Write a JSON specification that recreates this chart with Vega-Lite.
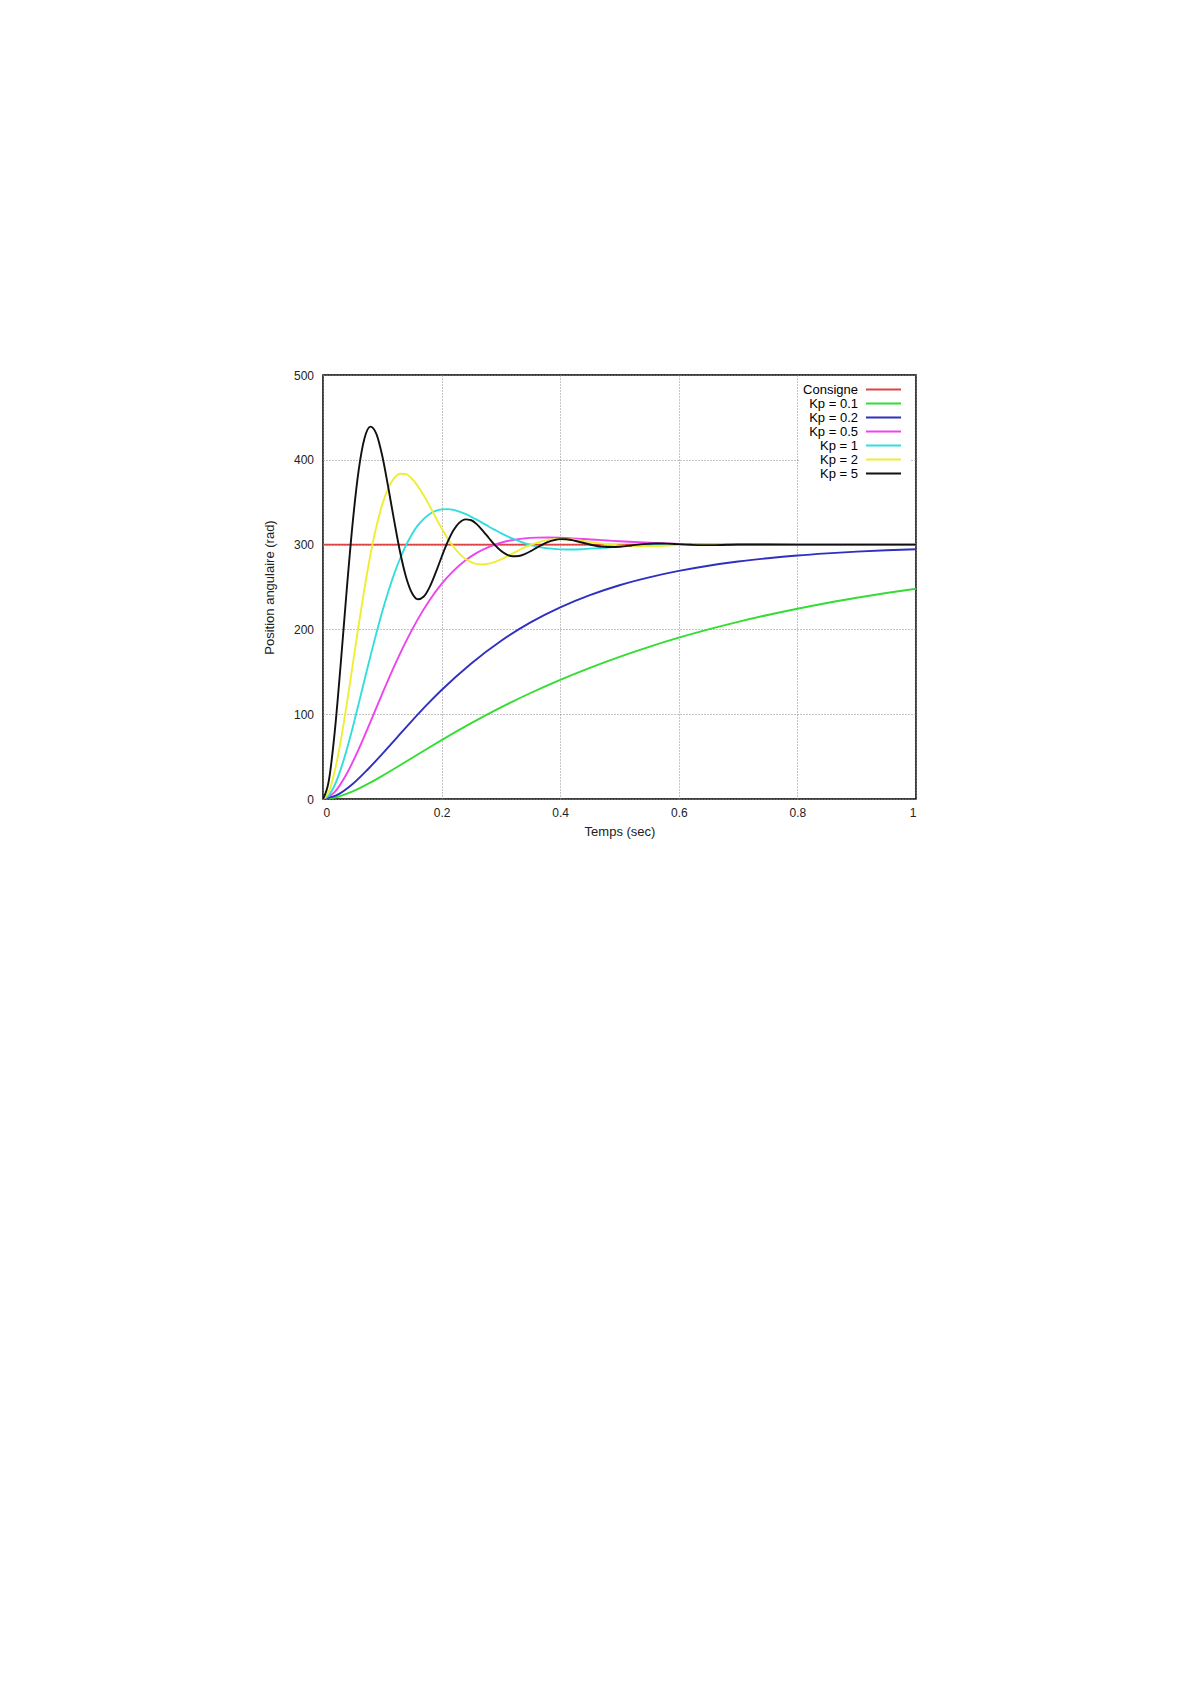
{
 "$schema": "https://vega.github.io/schema/vega-lite/v6.json",
 "autosize": {"type": "none"},
 "padding": {"left": 323, "top": 375, "right": 274, "bottom": 885},
 "width": 593,
 "height": 424,
 "background": "white",
 "config": {"view": {"stroke": "black", "strokeWidth": 1.5}, "font": "Liberation Sans"},
 "data": {"values": [
  {"courbe":"Consigne","t":0,"pos":300},{"courbe":"Consigne","t":1,"pos":300},
  {"courbe":"Kp = 0.1","t":0,"pos":0},{"courbe":"Kp = 0.1","t":0.025,"pos":2.6},{"courbe":"Kp = 0.1","t":0.05,"pos":8.9},{"courbe":"Kp = 0.1","t":0.075,"pos":17.5},{"courbe":"Kp = 0.1","t":0.1,"pos":27.3},{"courbe":"Kp = 0.1","t":0.125,"pos":37.7},{"courbe":"Kp = 0.1","t":0.15,"pos":48.4},{"courbe":"Kp = 0.1","t":0.175,"pos":59.0},{"courbe":"Kp = 0.1","t":0.2,"pos":69.4},{"courbe":"Kp = 0.1","t":0.25,"pos":89.4},{"courbe":"Kp = 0.1","t":0.3,"pos":108.0},{"courbe":"Kp = 0.1","t":0.35,"pos":125.0},{"courbe":"Kp = 0.1","t":0.4,"pos":140.5},{"courbe":"Kp = 0.1","t":0.45,"pos":154.7},{"courbe":"Kp = 0.1","t":0.5,"pos":167.7},{"courbe":"Kp = 0.1","t":0.55,"pos":179.5},{"courbe":"Kp = 0.1","t":0.6,"pos":190.2},{"courbe":"Kp = 0.1","t":0.65,"pos":200.0},{"courbe":"Kp = 0.1","t":0.7,"pos":208.9},{"courbe":"Kp = 0.1","t":0.75,"pos":217.0},{"courbe":"Kp = 0.1","t":0.8,"pos":224.4},{"courbe":"Kp = 0.1","t":0.85,"pos":231.2},{"courbe":"Kp = 0.1","t":0.9,"pos":237.3},{"courbe":"Kp = 0.1","t":0.95,"pos":242.9},{"courbe":"Kp = 0.1","t":1,"pos":248.0},
  {"courbe":"Kp = 0.2","t":0,"pos":0},{"courbe":"Kp = 0.2","t":0.025,"pos":5.1},{"courbe":"Kp = 0.2","t":0.05,"pos":17.6},{"courbe":"Kp = 0.2","t":0.075,"pos":34.5},{"courbe":"Kp = 0.2","t":0.1,"pos":53.3},{"courbe":"Kp = 0.2","t":0.125,"pos":72.8},{"courbe":"Kp = 0.2","t":0.15,"pos":92.2},{"courbe":"Kp = 0.2","t":0.175,"pos":110.9},{"courbe":"Kp = 0.2","t":0.2,"pos":128.5},{"courbe":"Kp = 0.2","t":0.25,"pos":159.9},{"courbe":"Kp = 0.2","t":0.3,"pos":186.4},{"courbe":"Kp = 0.2","t":0.35,"pos":208.2},{"courbe":"Kp = 0.2","t":0.4,"pos":226.0},{"courbe":"Kp = 0.2","t":0.45,"pos":240.4},{"courbe":"Kp = 0.2","t":0.5,"pos":252.1},{"courbe":"Kp = 0.2","t":0.55,"pos":261.4},{"courbe":"Kp = 0.2","t":0.6,"pos":269.0},{"courbe":"Kp = 0.2","t":0.65,"pos":275.1},{"courbe":"Kp = 0.2","t":0.7,"pos":280.0},{"courbe":"Kp = 0.2","t":0.75,"pos":283.9},{"courbe":"Kp = 0.2","t":0.8,"pos":287.1},{"courbe":"Kp = 0.2","t":0.85,"pos":289.6},{"courbe":"Kp = 0.2","t":0.9,"pos":291.7},{"courbe":"Kp = 0.2","t":0.95,"pos":293.3},{"courbe":"Kp = 0.2","t":1,"pos":294.6},
  {"courbe":"Kp = 0.5","t":0,"pos":0},{"courbe":"Kp = 0.5","t":0.02,"pos":8.4},{"courbe":"Kp = 0.5","t":0.04,"pos":29.7},{"courbe":"Kp = 0.5","t":0.06,"pos":58.5},{"courbe":"Kp = 0.5","t":0.08,"pos":91.0},{"courbe":"Kp = 0.5","t":0.1,"pos":124.3},{"courbe":"Kp = 0.5","t":0.12,"pos":156.4},{"courbe":"Kp = 0.5","t":0.14,"pos":185.9},{"courbe":"Kp = 0.5","t":0.16,"pos":212.1},{"courbe":"Kp = 0.5","t":0.18,"pos":234.7},{"courbe":"Kp = 0.5","t":0.2,"pos":253.6},{"courbe":"Kp = 0.5","t":0.22,"pos":269.0},{"courbe":"Kp = 0.5","t":0.24,"pos":281.2},{"courbe":"Kp = 0.5","t":0.26,"pos":290.5},{"courbe":"Kp = 0.5","t":0.28,"pos":297.4},{"courbe":"Kp = 0.5","t":0.3,"pos":302.2},{"courbe":"Kp = 0.5","t":0.32,"pos":305.4},{"courbe":"Kp = 0.5","t":0.34,"pos":307.3},{"courbe":"Kp = 0.5","t":0.36,"pos":308.2},{"courbe":"Kp = 0.5","t":0.38,"pos":308.4},{"courbe":"Kp = 0.5","t":0.4,"pos":308.1},{"courbe":"Kp = 0.5","t":0.42,"pos":307.4},{"courbe":"Kp = 0.5","t":0.44,"pos":306.6},{"courbe":"Kp = 0.5","t":0.46,"pos":305.7},{"courbe":"Kp = 0.5","t":0.48,"pos":304.8},{"courbe":"Kp = 0.5","t":0.5,"pos":303.9},{"courbe":"Kp = 0.5","t":0.55,"pos":302.1},{"courbe":"Kp = 0.5","t":0.6,"pos":300.8},{"courbe":"Kp = 0.5","t":0.65,"pos":300.1},{"courbe":"Kp = 0.5","t":0.7,"pos":299.8},{"courbe":"Kp = 0.5","t":0.8,"pos":300},{"courbe":"Kp = 0.5","t":1,"pos":300},
  {"courbe":"Kp = 1","t":0,"pos":0},{"courbe":"Kp = 1","t":0.01,"pos":4.5},{"courbe":"Kp = 1","t":0.02,"pos":16.8},{"courbe":"Kp = 1","t":0.03,"pos":35.2},{"courbe":"Kp = 1","t":0.04,"pos":58.1},{"courbe":"Kp = 1","t":0.05,"pos":84.1},{"courbe":"Kp = 1","t":0.06,"pos":111.9},{"courbe":"Kp = 1","t":0.07,"pos":140.3},{"courbe":"Kp = 1","t":0.08,"pos":168.5},{"courbe":"Kp = 1","t":0.09,"pos":195.6},{"courbe":"Kp = 1","t":0.1,"pos":221.1},{"courbe":"Kp = 1","t":0.11,"pos":244.4},{"courbe":"Kp = 1","t":0.12,"pos":265.3},{"courbe":"Kp = 1","t":0.13,"pos":283.6},{"courbe":"Kp = 1","t":0.14,"pos":299.2},{"courbe":"Kp = 1","t":0.15,"pos":312.3},{"courbe":"Kp = 1","t":0.16,"pos":322.6},{"courbe":"Kp = 1","t":0.17,"pos":330.4},{"courbe":"Kp = 1","t":0.18,"pos":336.1},{"courbe":"Kp = 1","t":0.19,"pos":339.7},{"courbe":"Kp = 1","t":0.2,"pos":341.5},{"courbe":"Kp = 1","t":0.21,"pos":341.8},{"courbe":"Kp = 1","t":0.22,"pos":340.9},{"courbe":"Kp = 1","t":0.23,"pos":338.9},{"courbe":"Kp = 1","t":0.24,"pos":336.1},{"courbe":"Kp = 1","t":0.25,"pos":332.8},{"courbe":"Kp = 1","t":0.26,"pos":329.1},{"courbe":"Kp = 1","t":0.27,"pos":325.1},{"courbe":"Kp = 1","t":0.28,"pos":321.1},{"courbe":"Kp = 1","t":0.29,"pos":317.3},{"courbe":"Kp = 1","t":0.3,"pos":313.5},{"courbe":"Kp = 1","t":0.32,"pos":306.9},{"courbe":"Kp = 1","t":0.34,"pos":301.6},{"courbe":"Kp = 1","t":0.36,"pos":297.9},{"courbe":"Kp = 1","t":0.38,"pos":295.5},{"courbe":"Kp = 1","t":0.4,"pos":294.4},{"courbe":"Kp = 1","t":0.42,"pos":294.2},{"courbe":"Kp = 1","t":0.44,"pos":294.7},{"courbe":"Kp = 1","t":0.46,"pos":295.5},{"courbe":"Kp = 1","t":0.48,"pos":296.6},{"courbe":"Kp = 1","t":0.5,"pos":297.7},{"courbe":"Kp = 1","t":0.55,"pos":299.9},{"courbe":"Kp = 1","t":0.6,"pos":300.7},{"courbe":"Kp = 1","t":0.65,"pos":300.7},{"courbe":"Kp = 1","t":0.7,"pos":300.4},{"courbe":"Kp = 1","t":0.8,"pos":300},{"courbe":"Kp = 1","t":1,"pos":300},
  {"courbe":"Kp = 2","t":0,"pos":0},{"courbe":"Kp = 2","t":0.01,"pos":9.0},{"courbe":"Kp = 2","t":0.02,"pos":33.3},{"courbe":"Kp = 2","t":0.03,"pos":68.8},{"courbe":"Kp = 2","t":0.04,"pos":111.7},{"courbe":"Kp = 2","t":0.05,"pos":158.0},{"courbe":"Kp = 2","t":0.06,"pos":204.5},{"courbe":"Kp = 2","t":0.07,"pos":248.5},{"courbe":"Kp = 2","t":0.08,"pos":288.0},{"courbe":"Kp = 2","t":0.09,"pos":321.2},{"courbe":"Kp = 2","t":0.1,"pos":347.4},{"courbe":"Kp = 2","t":0.11,"pos":366.5},{"courbe":"Kp = 2","t":0.12,"pos":378.3},{"courbe":"Kp = 2","t":0.13,"pos":383.6},{"courbe":"Kp = 2","t":0.14,"pos":383.1},{"courbe":"Kp = 2","t":0.15,"pos":377.8},{"courbe":"Kp = 2","t":0.16,"pos":369.0},{"courbe":"Kp = 2","t":0.17,"pos":357.8},{"courbe":"Kp = 2","t":0.18,"pos":345.4},{"courbe":"Kp = 2","t":0.19,"pos":331.9},{"courbe":"Kp = 2","t":0.2,"pos":319.2},{"courbe":"Kp = 2","t":0.21,"pos":307.6},{"courbe":"Kp = 2","t":0.22,"pos":297.5},{"courbe":"Kp = 2","t":0.23,"pos":289.4},{"courbe":"Kp = 2","t":0.24,"pos":283.2},{"courbe":"Kp = 2","t":0.25,"pos":279.2},{"courbe":"Kp = 2","t":0.26,"pos":277.0},{"courbe":"Kp = 2","t":0.27,"pos":276.5},{"courbe":"Kp = 2","t":0.28,"pos":277.5},{"courbe":"Kp = 2","t":0.29,"pos":279.6},{"courbe":"Kp = 2","t":0.3,"pos":282.5},{"courbe":"Kp = 2","t":0.32,"pos":289.6},{"courbe":"Kp = 2","t":0.34,"pos":296.6},{"courbe":"Kp = 2","t":0.36,"pos":302.1},{"courbe":"Kp = 2","t":0.38,"pos":305.5},{"courbe":"Kp = 2","t":0.4,"pos":306.6},{"courbe":"Kp = 2","t":0.42,"pos":306.0},{"courbe":"Kp = 2","t":0.44,"pos":304.3},{"courbe":"Kp = 2","t":0.46,"pos":302.3},{"courbe":"Kp = 2","t":0.48,"pos":300.4},{"courbe":"Kp = 2","t":0.5,"pos":299.1},{"courbe":"Kp = 2","t":0.52,"pos":298.3},{"courbe":"Kp = 2","t":0.54,"pos":298.2},{"courbe":"Kp = 2","t":0.56,"pos":298.4},{"courbe":"Kp = 2","t":0.6,"pos":299.5},{"courbe":"Kp = 2","t":0.65,"pos":300.3},{"courbe":"Kp = 2","t":0.7,"pos":300.2},{"courbe":"Kp = 2","t":0.8,"pos":300},{"courbe":"Kp = 2","t":1,"pos":300},
  {"courbe":"Kp = 5","t":0,"pos":0},{"courbe":"Kp = 5","t":0.01,"pos":22.3},{"courbe":"Kp = 5","t":0.02,"pos":80.6},{"courbe":"Kp = 5","t":0.03,"pos":160.4},{"courbe":"Kp = 5","t":0.04,"pos":246.5},{"courbe":"Kp = 5","t":0.05,"pos":325.3},{"courbe":"Kp = 5","t":0.06,"pos":386.9},{"courbe":"Kp = 5","t":0.07,"pos":425.3},{"courbe":"Kp = 5","t":0.08,"pos":439.1},{"courbe":"Kp = 5","t":0.09,"pos":430.5},{"courbe":"Kp = 5","t":0.1,"pos":404.4},{"courbe":"Kp = 5","t":0.11,"pos":367.7},{"courbe":"Kp = 5","t":0.12,"pos":328.2},{"courbe":"Kp = 5","t":0.13,"pos":291.2},{"courbe":"Kp = 5","t":0.14,"pos":261.8},{"courbe":"Kp = 5","t":0.15,"pos":242.9},{"courbe":"Kp = 5","t":0.16,"pos":235.5},{"courbe":"Kp = 5","t":0.17,"pos":238.8},{"courbe":"Kp = 5","t":0.18,"pos":250.2},{"courbe":"Kp = 5","t":0.19,"pos":266.9},{"courbe":"Kp = 5","t":0.2,"pos":285.4},{"courbe":"Kp = 5","t":0.21,"pos":302.8},{"courbe":"Kp = 5","t":0.22,"pos":316.9},{"courbe":"Kp = 5","t":0.23,"pos":325.9},{"courbe":"Kp = 5","t":0.24,"pos":329.8},{"courbe":"Kp = 5","t":0.25,"pos":328.7},{"courbe":"Kp = 5","t":0.26,"pos":323.6},{"courbe":"Kp = 5","t":0.27,"pos":316.0},{"courbe":"Kp = 5","t":0.28,"pos":307.5},{"courbe":"Kp = 5","t":0.29,"pos":299.3},{"courbe":"Kp = 5","t":0.3,"pos":292.7},{"courbe":"Kp = 5","t":0.31,"pos":288.2},{"courbe":"Kp = 5","t":0.32,"pos":286.2},{"courbe":"Kp = 5","t":0.33,"pos":286.6},{"courbe":"Kp = 5","t":0.34,"pos":288.8},{"courbe":"Kp = 5","t":0.35,"pos":292.2},{"courbe":"Kp = 5","t":0.36,"pos":296.2},{"courbe":"Kp = 5","t":0.37,"pos":300.0},{"courbe":"Kp = 5","t":0.38,"pos":303.2},{"courbe":"Kp = 5","t":0.39,"pos":305.3},{"courbe":"Kp = 5","t":0.4,"pos":306.4},{"courbe":"Kp = 5","t":0.41,"pos":306.3},{"courbe":"Kp = 5","t":0.42,"pos":305.3},{"courbe":"Kp = 5","t":0.43,"pos":303.7},{"courbe":"Kp = 5","t":0.44,"pos":301.9},{"courbe":"Kp = 5","t":0.45,"pos":300.1},{"courbe":"Kp = 5","t":0.46,"pos":298.6},{"courbe":"Kp = 5","t":0.47,"pos":297.6},{"courbe":"Kp = 5","t":0.48,"pos":297.1},{"courbe":"Kp = 5","t":0.49,"pos":297.1},{"courbe":"Kp = 5","t":0.5,"pos":297.5},{"courbe":"Kp = 5","t":0.52,"pos":299.0},{"courbe":"Kp = 5","t":0.54,"pos":300.6},{"courbe":"Kp = 5","t":0.56,"pos":301.3},{"courbe":"Kp = 5","t":0.58,"pos":301.2},{"courbe":"Kp = 5","t":0.6,"pos":300.5},{"courbe":"Kp = 5","t":0.62,"pos":299.8},{"courbe":"Kp = 5","t":0.64,"pos":299.4},{"courbe":"Kp = 5","t":0.66,"pos":299.4},{"courbe":"Kp = 5","t":0.7,"pos":300.2},{"courbe":"Kp = 5","t":0.8,"pos":300},{"courbe":"Kp = 5","t":1,"pos":300}
 ]},
 "mark": {"type": "line", "interpolate": "monotone", "strokeWidth": 1.9, "clip": true},
 "encoding": {
  "x": {"field": "t", "type": "quantitative", "scale": {"domain": [0, 1], "nice": false},
   "axis": {"values": [0, 0.2, 0.4, 0.6, 0.8, 1], "format": "~g", "title": "Temps (sec)", "grid": true, "gridDash": [1, 2], "gridColor": "#888", "gridWidth": 1, "domain": false, "ticks": false, "labelPadding": 8, "labelFontSize": 12, "labelColor": "#222", "titleFontSize": 13, "titleFontWeight": "normal", "titleColor": "#222", "titlePadding": 7}},
  "y": {"field": "pos", "type": "quantitative", "scale": {"domain": [0, 500], "nice": false},
   "axis": {"values": [0, 100, 200, 300, 400, 500], "title": "Position angulaire (rad)", "grid": true, "gridDash": [1, 2], "gridColor": "#888", "gridWidth": 1, "domain": false, "ticks": false, "labelPadding": 9.5, "labelFontSize": 12, "labelColor": "#222", "titleFontSize": 13, "titleFontWeight": "normal", "titleColor": "#222", "titlePadding": 17}},
  "color": {"field": "courbe", "type": "nominal",
   "scale": {"domain": ["Consigne", "Kp = 0.1", "Kp = 0.2", "Kp = 0.5", "Kp = 1", "Kp = 2", "Kp = 5"],
             "range": ["#dd4444", "#33dd33", "#2f2fc0", "#ee44ee", "#33dddd", "#eeee33", "#111111"]},
   "legend": {"title": null, "orient": "none", "legendX": 476, "legendY": 2, "padding": 6, "fillColor": "white", "symbolType": "M-4,0H4", "symbolSize": 76.5, "symbolStrokeWidth": 2, "symbolOffset": 72, "labelAlign": "right", "labelOffset": -32, "labelFontSize": 13, "labelColor": "black", "rowPadding": -0.6, "labelLimit": 200}}
 }
}
